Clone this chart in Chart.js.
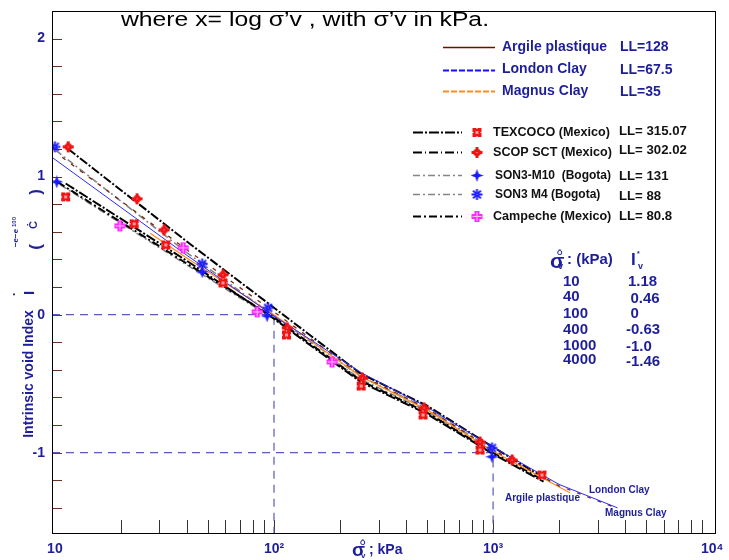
<!DOCTYPE html>
<html>
<head>
<meta charset="utf-8">
<script src="https://cdn.jsdelivr.net/npm/chart.js@4/dist/chart.umd.min.js"></script>
<style>
  html, body { margin: 0; padding: 0; background: #fff; }
  canvas { display: block; }
</style>
</head>
<body>
<canvas id="c" width="729" height="560"></canvas>
<script>
// ---- axes ----
const xMin = 9.7, xMax = 10300;
const yMin = -1.582, yMax = 2.2;
const xTickValues = [10, 100, 1000, 10000];
const xTickLabels = ['10', '10²', '10³', '10⁴'];
const xMinorTicks = [20, 30, 40, 50, 60, 70, 80, 90, 100,
                     200, 300, 400, 500, 600, 700, 800, 900, 1000,
                     2000, 3000, 4000, 5000, 6000, 7000, 8000, 9000];
const yTickValues = [-1, 0, 1, 2];
const yMinorTicks = [-1.4, -1.2, -1.0, -0.8, -0.6, -0.4, -0.2, 0, 0.2, 0.4,
                     0.6, 0.8, 1.0, 1.2, 1.4, 1.6, 1.8, 2.0];

// ---- reference clays (sigma'v in kPa, Iv) ----
const argileSigma = [10.8, 40, 100, 250, 500, 1000, 2000, 3500];
const argileIv    = [1.14, 0.47, 0.02, -0.44, -0.68, -0.98, -1.24, -1.39];
const londonSigma = [9.7, 40, 100, 250, 500, 1000, 2000, 3700];
const londonIv    = [1.14, 0.43, -0.01, -0.42, -0.67, -0.96, -1.23, -1.40];
const magnusSigma = [27.2, 40, 100, 250, 500, 1000, 2240];
const magnusIv    = [0.59, 0.41, 0.0, -0.45, -0.69, -0.99, -1.29];

// ---- fitted lines per soil ----
const scopLineSigma     = [11.5, 40, 100, 250, 500, 1000, 1700];
const scopLineIv        = [1.20, 0.53, 0.05, -0.43, -0.66, -0.96, -1.18];
const son3m4LineSigma   = [10.1, 40, 100, 250, 500, 1000];
const son3m4LineIv      = [1.19, 0.45, -0.01, -0.45, -0.68, -0.98];
const campecheLineSigma = [10.3, 40, 100, 250, 500, 1000, 1700];
const campecheLineIv    = [0.96, 0.37, -0.02, -0.48, -0.71, -1.00, -1.20];
const son3m10LineSigma  = [10.6, 40, 100, 250, 500, 1000];
const son3m10LineIv     = [0.94, 0.36, -0.03, -0.47, -0.70, -1.01];
const texcocoLineSigma  = [11.2, 40, 100, 250, 500, 1000, 1700];
const texcocoLineIv     = [0.95, 0.39, -0.03, -0.49, -0.72, -1.01, -1.21];

// ---- measured points ----
const texcocoSigma  = [11.2, 23.0, 32.1, 58.5, 114, 250, 479, 872, 1671];
const texcocoIv     = [0.853, 0.658, 0.505, 0.230, -0.147, -0.517, -0.727, -0.981, -1.162];
const scopSigma     = [11.5, 23.7, 31.5, 58.5, 115, 253, 484, 872, 1221];
const scopIv        = [1.216, 0.839, 0.614, 0.289, -0.096, -0.459, -0.676, -0.923, -1.053];
const son3m10Sigma  = [10.2, 47, 93, 988];
const son3m10Iv     = [0.962, 0.31, -0.009, -1.03];
const son3m4Sigma   = [10.0, 47, 94, 988];
const son3m4Iv      = [1.216, 0.367, 0.049, -0.966];
const campecheSigma = [19.8, 38.5, 83.8, 184];
const campecheIv    = [0.643, 0.484, 0.02, -0.343];

// ---- ICL reference table ----
const tableSigma = ['10', '40', '100', '400', '1000', '4000'];
const tableIv    = ['1.18', '0.46', '0', '-0.63', '-1.0', '-1.46'];

const navy = '#1e1e9a';
const FONT = '"Liberation Sans", Arial, Helvetica, sans-serif';

const pts = (xs, ys) => xs.map((x, i) => ({ x: x, y: ys[i] }));

// marker glyphs
function makeMarker(kind) {
  const c = document.createElement('canvas');
  c.width = 13; c.height = 13;
  const g = c.getContext('2d');
  if (kind === 'texcoco') {
    g.fillStyle = '#f01414';
    g.fillRect(2, 2, 9, 9);
    g.fillStyle = '#ff9a9a';
    g.fillRect(5, 5, 3, 3);
    g.fillStyle = '#fff';
    g.fillRect(6, 2, 1, 1); g.fillRect(6, 10, 1, 1);
    g.fillRect(2, 6, 1, 1); g.fillRect(10, 6, 1, 1);
  } else if (kind === 'scop') {
    g.fillStyle = '#f01414';
    g.beginPath(); g.arc(6.5, 6.5, 3.8, 0, Math.PI * 2); g.fill();
    g.fillRect(5, 1, 3, 11); g.fillRect(1, 5, 11, 3);
    g.fillStyle = '#ffb0b0';
    g.fillRect(6, 6, 1, 1);
  } else if (kind === 'm10') {
    g.fillStyle = '#1a1aff';
    g.beginPath();
    g.moveTo(6.5, 0); g.lineTo(8.2, 4.8); g.lineTo(13, 6.5); g.lineTo(8.2, 8.2);
    g.lineTo(6.5, 13); g.lineTo(4.8, 8.2); g.lineTo(0, 6.5); g.lineTo(4.8, 4.8);
    g.closePath(); g.fill();
  } else if (kind === 'm4') {
    g.strokeStyle = '#1a1aff'; g.lineWidth = 2;
    for (let k = 0; k < 4; k++) {
      const a = k * Math.PI / 4;
      g.beginPath();
      g.moveTo(6.5 - 5.5 * Math.cos(a), 6.5 - 5.5 * Math.sin(a));
      g.lineTo(6.5 + 5.5 * Math.cos(a), 6.5 + 5.5 * Math.sin(a));
      g.stroke();
    }
    g.fillStyle = '#9a9aff'; g.fillRect(6, 6, 1, 1);
  } else if (kind === 'campeche') {
    g.fillStyle = '#ff28ff';
    g.fillRect(4, 1, 5, 11); g.fillRect(1, 4, 11, 5);
    g.fillStyle = '#ffc0ff';
    g.fillRect(6, 2, 1, 9); g.fillRect(2, 6, 9, 1);
  }
  return c;
}
const markers = {
  texcoco: makeMarker('texcoco'), scop: makeMarker('scop'), m10: makeMarker('m10'),
  m4: makeMarker('m4'), campeche: makeMarker('campeche')
};

const lineDs = (label, xs, ys, color, width, dash, order) => ({
  label: label, data: pts(xs, ys), showLine: true, borderColor: color,
  borderWidth: width, borderDash: dash, pointRadius: 0, fill: false, tension: 0, order: order
});
const markDs = (label, xs, ys, img) => ({
  label: label, data: pts(xs, ys), showLine: false, pointStyle: img,
  pointRadius: 6, pointHoverRadius: 6, order: 0
});

const datasets = [
  // ICL guide lines at (100, 0) and (1000, -1)
  lineDs('guide100', [xMin, 100, 100], [0, 0, yMin], '#5a5ab8', 1.2, [8, 6], 5),
  lineDs('guide1000', [xMin, 1000, 1000], [-1, -1, yMin], '#5a5ab8', 1.2, [8, 6], 5),
  lineDs('SON3 M4 fit', son3m4LineSigma, son3m4LineIv, '#858585', 1.6, [7, 3, 2, 3], 3),
  lineDs('SON3-M10 fit', son3m10LineSigma, son3m10LineIv, '#858585', 1.6, [7, 3, 2, 3], 3),
  lineDs('SCOP SCT fit', scopLineSigma, scopLineIv, '#000', 2, [9, 2, 2, 2], 2),
  lineDs('Campeche fit', campecheLineSigma, campecheLineIv, '#000', 2, [8, 3, 2, 3], 2),
  lineDs('TEXCOCO fit', texcocoLineSigma, texcocoLineIv, '#000', 2, [10, 2, 2, 2], 2),
  lineDs('London Clay', londonSigma, londonIv, '#2a2aff', 1, [], 1),
  lineDs('Argile plastique', argileSigma, argileIv, '#7a2810', 1.3, [4, 7], 1),
  lineDs('Magnus Clay', magnusSigma, magnusIv, '#ff8a1c', 1.2, [], 1),
  markDs('TEXCOCO (Mexico)', texcocoSigma, texcocoIv, markers.texcoco),
  markDs('SCOP SCT (Mexico)', scopSigma, scopIv, markers.scop),
  markDs('SON3-M10 (Bogota)', son3m10Sigma, son3m10Iv, markers.m10),
  markDs('SON3 M4 (Bogota)', son3m4Sigma, son3m4Iv, markers.m4),
  markDs('Campeche (Mexico)', campecheSigma, campecheIv, markers.campeche)
];

function txt(ctx, s, x, y, size, opts) {
  opts = opts || {};
  ctx.save();
  ctx.font = (opts.weight || 'bold') + ' ' + size + 'px ' + FONT;
  ctx.fillStyle = opts.color || navy;
  ctx.textAlign = opts.align || 'left';
  ctx.textBaseline = opts.baseline || 'middle';
  ctx.fillText(s, x, y);
  ctx.restore();
}

function legendLine(ctx, x1, x2, y, color, width, dash) {
  ctx.save();
  ctx.strokeStyle = color; ctx.lineWidth = width; ctx.setLineDash(dash);
  ctx.beginPath(); ctx.moveTo(x1, y); ctx.lineTo(x2, y); ctx.stroke();
  ctx.restore();
}

const decor = {
  id: 'decor',
  beforeDatasetsDraw(chart) {
    const ctx = chart.ctx, a = chart.chartArea;
    const xs = chart.scales.x, ys = chart.scales.y;
    ctx.save();
    // y ticks, drawn inward
    ctx.strokeStyle = '#6a3020'; ctx.lineWidth = 1;
    yMinorTicks.forEach(v => {
      const py = Math.round(ys.getPixelForValue(v)) + 0.5;
      ctx.beginPath(); ctx.moveTo(a.left, py); ctx.lineTo(a.left + 10, py); ctx.stroke();
    });
    // x ticks, drawn inward from the bottom
    ctx.strokeStyle = '#333';
    xMinorTicks.forEach(v => {
      const px = Math.round(xs.getPixelForValue(v)) + 0.5;
      ctx.beginPath(); ctx.moveTo(px, a.bottom); ctx.lineTo(px, a.bottom - 13); ctx.stroke();
    });
    ctx.restore();
  },
  afterDraw(chart) {
    const ctx = chart.ctx, a = chart.chartArea;
    // frame
    ctx.save();
    ctx.strokeStyle = '#000'; ctx.lineWidth = 1;
    ctx.strokeRect(a.left + 0.5, a.top + 0.5, a.right - a.left, a.bottom - a.top);
    ctx.restore();

    // heading line
    ctx.save();
    ctx.font = '20px ' + FONT;
    ctx.fillStyle = '#000';
    ctx.textBaseline = 'alphabetic';
    const head = 'where x= log σ’v , with σ’v in kPa.';
    const w = ctx.measureText(head).width;
    ctx.translate(121, 26);
    ctx.scale(368 / w, 1);
    ctx.fillText(head, 0, 0);
    ctx.restore();

    // reference clay legend
    legendLine(ctx, 443, 495, 47.5, '#6b1000', 1.3, []);
    legendLine(ctx, 443, 495, 70.5, '#1010ff', 2, [6, 2]);
    legendLine(ctx, 443, 495, 91.5, '#ff8c1a', 2, [6, 2]);
    txt(ctx, 'Argile plastique', 502, 47, 14);
    txt(ctx, 'London Clay', 502, 69, 14);
    txt(ctx, 'Magnus Clay', 502, 91, 14);
    txt(ctx, 'LL=128', 620, 47, 14);
    txt(ctx, 'LL=67.5', 620, 70, 14);
    txt(ctx, 'LL=35', 620, 92, 14);

    // soil legend
    const rows = [
      { y: 132.5, color: '#000', w: 2, dash: [10, 2, 2, 2], m: markers.texcoco, t: 'TEXCOCO (Mexico)', ll: 'LL= 315.07', lly: 131.5, ts: 12.6 },
      { y: 152.5, color: '#000', w: 2, dash: [9, 3, 1, 3], m: markers.scop, t: 'SCOP SCT (Mexico)', ll: 'LL= 302.02', lly: 150.5, ts: 12.6 },
      { y: 175.5, color: '#858585', w: 1.6, dash: [7, 3, 2, 3], m: markers.m10, t: 'SON3-M10  (Bogota)', ll: 'LL= 131', lly: 176.5, ts: 12 },
      { y: 194.5, color: '#858585', w: 1.6, dash: [7, 3, 2, 3], m: markers.m4, t: 'SON3 M4 (Bogota)', ll: 'LL= 88', lly: 196, ts: 12 },
      { y: 216.5, color: '#000', w: 2, dash: [8, 3, 2, 3], m: markers.campeche, t: 'Campeche (Mexico)', ll: 'LL= 80.8', lly: 216, ts: 12.6 }
    ];
    rows.forEach((r, i) => {
      legendLine(ctx, 413, 462, r.y, r.color, r.w, r.dash);
      ctx.drawImage(r.m, 477 - 6.5, r.y - 6.5);
      txt(ctx, r.t, i === 2 || i === 3 ? 495 : 493, r.y, r.ts, { color: '#111' });
      txt(ctx, r.ll, 619, r.lly, 13.2, { color: '#111' });
    });

    // ICL table
    txt(ctx, 'σ', 550, 262, 21);
    txt(ctx, 'Ō', 557, 253, 7);
    txt(ctx, 'v', 558, 267, 9);
    txt(ctx, ': (kPa)', 567, 260, 15);
    txt(ctx, 'I', 631, 260, 17);
    txt(ctx, '*', 637, 254, 7);
    txt(ctx, 'v', 638, 267, 9);
    const rowY = [281.5, 297, 314, 330, 346, 359.5];
    const rowY2 = [282, 298.5, 314, 330, 347, 362];
    const col2X = [628, 630.5, 630.5, 626, 626, 626];
    tableSigma.forEach((s, i) => {
      txt(ctx, s, 563, rowY[i], 15);
      txt(ctx, tableIv[i], col2X[i], rowY2[i], 15);
    });

    // curve labels
    txt(ctx, 'London Clay', 589, 490, 10);
    txt(ctx, 'Argile plastique', 505, 498, 10);
    txt(ctx, 'Magnus Clay', 605, 513, 10);

    // x-axis title
    txt(ctx, 'σ', 352, 551, 19);
    txt(ctx, 'Ō', 360, 543, 7);
    txt(ctx, 'v', 361, 556, 8);
    txt(ctx, '; kPa', 369, 550, 14);

    // y-axis title (rotated)
    ctx.save();
    ctx.translate(29, 374);
    ctx.rotate(-Math.PI / 2);
    txt(ctx, 'Intrinsic void Index', 0, 0, 14, { align: 'center' });
    ctx.restore();
    const rot = (s, x, y, size, color) => {
      ctx.save(); ctx.translate(x, y); ctx.rotate(-Math.PI / 2);
      txt(ctx, s, 0, 0, size, { align: 'center', color: color });
      ctx.restore();
    };
    rot('·', 15, 294, 12);
    rot('I', 30, 293, 15);
    rot('(', 36, 247, 17);
    rot('Ċ', 34, 225, 11);
    rot('−e−e', 16, 238, 8);
    rot('100', 14, 222, 6);
    rot(')', 36, 192, 17);
  }
};

new Chart(document.getElementById('c'), {
  type: 'scatter',
  data: { datasets: datasets },
  options: {
    responsive: false,
    devicePixelRatio: 1,
    animation: false,
    events: [],
    layout: { padding: { top: 11, right: 14, left: 0, bottom: 0 } },
    plugins: { legend: { display: false }, tooltip: { enabled: false } },
    scales: {
      x: {
        type: 'logarithmic', min: xMin, max: xMax,
        grid: { display: false, drawTicks: false }, border: { display: false },
        afterBuildTicks: s => { s.ticks = xTickValues.map(v => ({ value: v })); },
        afterFit: s => { s.height = 27; s.paddingLeft = 0; s.paddingRight = 0; },
        ticks: {
          autoSkip: false, maxRotation: 0, minRotation: 0, padding: 8, color: navy,
          font: { family: FONT, size: 14, weight: 'bold' },
          callback: v => xTickLabels[xTickValues.indexOf(v)]
        }
      },
      y: {
        type: 'linear', min: yMin, max: yMax,
        grid: { display: false, drawTicks: false }, border: { display: false },
        afterBuildTicks: s => { s.ticks = yTickValues.map(v => ({ value: v })); },
        afterFit: s => { s.width = 52; s.paddingTop = 0; s.paddingBottom = 0; },
        ticks: {
          padding: 7, color: navy,
          font: { family: FONT, size: 14, weight: 'bold' },
          callback: v => String(v)
        }
      }
    }
  },
  plugins: [decor]
});
</script>
</body>
</html>
